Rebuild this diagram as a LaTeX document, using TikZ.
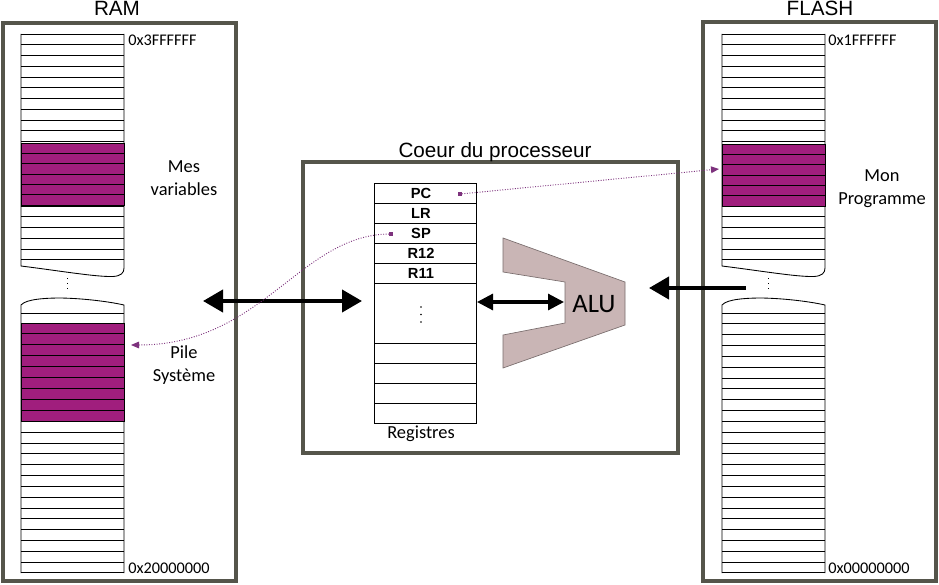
\documentclass[tikz,border=0pt]{standalone}
\usepackage{fontspec}
\setmainfont{Carlito}
\newfontfamily\arialfont{Liberation Sans}
\usepackage{xcolor}
\usepackage{tikz}
\usetikzlibrary{arrows.meta,positioning}

\definecolor{framegray}{RGB}{85,85,75}
\definecolor{progpurple}{RGB}{160,30,125}
\definecolor{ptrpurple}{RGB}{125,50,125}
\definecolor{alupink}{RGB}{201,181,181}

\tikzset{
    frame/.style={draw=framegray, line width=3.4pt},
    memline/.style={line width=0.65pt},
    title/.style={font=\arialfont\fontsize{15.5}{18}\selectfont, anchor=base},
    address/.style={font=\fontsize{12.2}{15}\selectfont, anchor=west, inner sep=0pt},
    zone/.style={font=\fontsize{13.8}{17.25}\selectfont, align=center},
    reglabel/.style={font=\arialfont\bfseries\fontsize{11}{12}\selectfont},
    bus/.style={line width=3pt},
    bigtip/.tip={Triangle[length=15pt,width=16.5pt]},
    smalltip/.tip={Triangle[length=12pt,width=12pt]},
    ptrdot/.style={rectangle, fill=ptrpurple, inner sep=0pt, minimum size=2.5pt},
    pointer/.style={draw=ptrpurple, line width=0.7pt, dash pattern=on 0.7pt off 1.2pt,
        -{Triangle[length=6pt,width=5pt]}}
}

\begin{document}
\begin{tikzpicture}[x=0.75pt, y=-0.75pt]
    \useasboundingbox (0,0) rectangle (939,585);

    % boxes
    \draw[frame] (3,23) rectangle (236,581) node[pos=.5] (ram) {};
    \draw[frame] (703,22) rectangle (936,581) node[pos=.5] (flash) {};
    \draw[frame] (303,162) rectangle (678,453) node[pos=.5] (core) {};
    \node[title] (ramtitle) at (117,15.5) {RAM};
    \node[title] (flashtitle) at (820,15.5) {FLASH};
    \node[title] (coretitle) at (495,157) {Coeur du processeur};

    % memory columns
    \foreach \cx in {21,722} {
        \foreach \k in {0,...,21}
            \draw[memline] (\cx,{34+10.75*\k}) -- ++(103,0);
        \draw[memline] (\cx,34) -- (\cx,266)
            .. controls ({\cx+40},271) and ({\cx+75},277) .. ({\cx+92},276.5)
            .. controls ({\cx+100},276) and ({\cx+103},273) .. ({\cx+103},268)
            -- ({\cx+103},34);
        \draw[memline, dash pattern=on 0.8pt off 3pt] ({\cx+46},278) -- ({\cx+46},292);
        \foreach \k in {0,...,24}
            \draw[memline] (\cx,{313+10.83*\k}) -- ++(103,0);
        \draw[memline] (\cx,573) -- (\cx,305)
            .. controls ({\cx+5},299) and ({\cx+25},298) .. ({\cx+40},298)
            .. controls ({\cx+65},298.5) and ({\cx+90},302) .. ({\cx+103},305)
            -- ({\cx+103},573);
    }

    % used areas
    \foreach \px/\py/\n/\h in {21/143/6/10.35, 21/323/9/10.9, 722/144/6/10.35} {
        \fill[progpurple] (\px,\py) rectangle ({\px+103},{\py+\n*\h});
        \foreach \j in {0,...,\n}
            \draw[memline] (\px,{\py+\j*\h}) -- ++(103,0);
        \draw[memline] (\px,\py) rectangle ({\px+103},{\py+\n*\h});
    }

    \node[address] (ramhigh) at (128,40) {0x3FFFFFF};
    \node[address] (ramlow) at (128,568) {0x20000000};
    \node[address] (flashhigh) at (828,40) {0x1FFFFFF};
    \node[address] (flashlow) at (828,568) {0x00000000};

    \node[zone] (mesvar) at (184,178.5) {Mes\\variables};
    \node[zone] (pile) at (184,365.5) {Pile\\Système};
    \node[zone] (monprog) at (882,188.5) {Mon\\Programme};

    % registers
    \foreach \name/\lab/\k in {pc/PC/0, lr/LR/1, sp/SP/2, r12/R12/3, r11/R11/4} {
        \draw[memline] (374,{183+20*\k}) rectangle (476,{203+20*\k});
        \node[reglabel] (\name) at (421,{193+20*\k}) {\lab};
    }
    \draw[memline] (374,283) rectangle (476,343);
    \foreach \d in {307,314.5,322}
        \fill (421,\d) circle (0.9);
    \foreach \k in {0,...,3}
        \draw[memline] (374,{343+20*\k}) rectangle (476,{363+20*\k});
    \node[zone] (regname) at (421,434) {Registres};

    % ALU
    \draw[fill=alupink, draw=alupink!60!black, line width=0.5pt]
        (503,238) -- (625,282) -- (625,325) -- (503,368) -- (503,335)
        -- (565,323) -- (565,282) -- (503,272) -- cycle;
    \node[font=\fontsize{20}{22}\selectfont] (alu) at (594,304) {ALU};

    % buses
    \coordinate (rambus) at (203,301);
    \coordinate (corebus) at (362,301);
    \coordinate (regbus) at (477,302);
    \coordinate (alubus) at (564,302);
    \coordinate (flashbus) at (746,288);
    \coordinate (fetchbus) at (649,288);
    \draw[bus, bigtip-bigtip] (rambus) -- (corebus);
    \draw[line width=2.3pt, smalltip-smalltip] (regbus) -- (alubus);
    \draw[bus, -bigtip] (flashbus) -- (fetchbus);

    % pointers
    \node[ptrdot] (pcptr) at (460,194) {};
    \node[ptrdot] (spptr) at (391,234) {};
    \coordinate (progentry) at (719,169);
    \coordinate (stackentry) at (131,345);
    \draw[pointer] (pcptr) -- (progentry);
    \draw[pointer] (spptr) .. controls (300,235) and (262,345) .. (stackentry);
\end{tikzpicture}
\end{document}
